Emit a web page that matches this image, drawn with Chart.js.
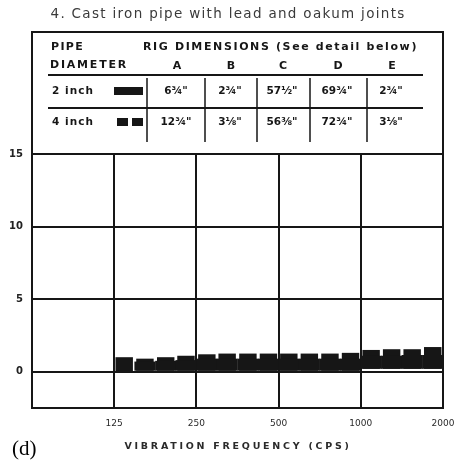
<!DOCTYPE html>
<html>
<head>
<meta charset="utf-8">
<script src="https://cdn.jsdelivr.net/npm/chart.js@4.4.1/dist/chart.umd.min.js"></script>
<style>
    html, body { margin: 0; padding: 0; background: #fff; }
    #wrap { width: 456px; height: 464px; }
</style>
</head>
<body>
<div id="wrap"><canvas id="vibChart"></canvas></div>
<script>
// Cast iron pipe, lead and oakum joints - vibration chart (d)

const chartTitle = '4. Cast iron pipe with lead and oakum joints';
const xAxisTitle = 'VIBRATION FREQUENCY (CPS)';
const panelLabel = '(d)';

// rig dimension table
const pipeSizes = ['2 inch', '4 inch'];
const rigColumns = ['A', 'B', 'C', 'D', 'E'];
const rigDims2in = ['6¾"', '2¾"', '57½"', '69¾"', '2¾"'];
const rigDims4in = ['12¾"', '3⅛"', '56⅜"', '72¾"', '3⅛"'];

// quarter-octave bands, 125 to 2000 cps
const bandFreqs = [136, 162, 193, 229, 273, 324, 386, 459, 545, 648, 771, 917, 1091, 1297, 1542, 1834];

// 2 inch pipe (solid band)
const band2inLow  = [null, 0, 0, 0, 0, 0, 0, 0, 0, 0, 0, 0, 0.2, 0.2, 0.2, 0.2];
const band2inHigh = [null, 0.7, 0.75, 0.8, 0.9, 0.9, 0.9, 0.9, 0.9, 0.9, 0.9, 0.9, 1.1, 1.1, 1.15, 1.15];

// 4 inch pipe (square blocks)
const blocks4inLow  = [-0.05, 0, 0, 0, 0, 0, 0, 0, 0, 0, 0, 0, 0.2, 0.2, 0.2, 0.2];
const blocks4inHigh = [1.0, 0.9, 1.0, 1.1, 1.2, 1.25, 1.25, 1.25, 1.25, 1.25, 1.25, 1.3, 1.5, 1.55, 1.55, 1.7];

// axes
const xTickValues = [62.5, 125, 250, 500, 1000, 2000];
const xTickLabels = ['', '125', '250', '500', '1000', '2000'];
const yTickValues = [0, 5, 10, 15];

const ink = '#161616';

// draw text stretched to a given width with letter spacing
function drawFit(ctx, text, x, y, width, align) {
    ctx.letterSpacing = '0px';
    const w = ctx.measureText(text).width;
    const ls = text.length > 1 ? (width - w) / text.length : 0;
    ctx.letterSpacing = ls.toFixed(2) + 'px';
    const left = align === 'center' ? x - width / 2 : x;
    ctx.textAlign = 'left';
    ctx.fillText(text, left, y);
    ctx.letterSpacing = '0px';
}

// table, title and captions around the plot
const framePlugin = {
    id: 'framePlugin',
    afterDraw(chart) {
        const ctx = chart.ctx;
        const area = chart.chartArea;
        ctx.save();
        ctx.fillStyle = ink;
        ctx.strokeStyle = ink;
        ctx.textBaseline = 'middle';

        // title
        ctx.fillStyle = '#3a3a3a';
        ctx.font = '13.5px "DejaVu Sans", sans-serif';
        drawFit(ctx, chartTitle, 228, 14, 355, 'center');

        // table box
        ctx.lineWidth = 2;
        ctx.beginPath();
        ctx.moveTo(area.left, area.top);
        ctx.lineTo(area.left, 32);
        ctx.lineTo(area.right, 32);
        ctx.lineTo(area.right, area.top);
        ctx.stroke();

        ctx.fillStyle = ink;
        ctx.font = 'bold 11px "DejaVu Sans", sans-serif';
        drawFit(ctx, 'PIPE', 51, 47, 33, 'left');
        drawFit(ctx, 'RIG DIMENSIONS (See detail below)', 143, 47, 275, 'left');
        drawFit(ctx, 'DIAMETER', 50, 65, 78, 'left');

        const colX = [177, 231, 283, 338, 392];
        ctx.font = 'bold 11px "DejaVu Sans", sans-serif';
        rigColumns.forEach((c, i) => {
            ctx.textAlign = 'center';
            ctx.fillText(c, colX[i], 66);
        });

        // rules
        ctx.lineWidth = 2;
        ctx.beginPath();
        ctx.moveTo(48, 75); ctx.lineTo(423, 75);
        ctx.moveTo(48, 108); ctx.lineTo(423, 108);
        ctx.stroke();
        ctx.lineWidth = 1.5;
        ctx.beginPath();
        [147, 205, 257, 310, 367].forEach(x => {
            ctx.moveTo(x, 78); ctx.lineTo(x, 142);
        });
        ctx.stroke();

        // rows
        const rowY = [91, 122];
        ctx.font = 'bold 10.5px "DejaVu Sans", sans-serif';
        pipeSizes.forEach((p, r) => {
            drawFit(ctx, p, 52, rowY[r], 42, 'left');
        });
        // swatches
        ctx.fillRect(114, 87, 29, 8);
        ctx.fillRect(117, 118, 11, 8);
        ctx.fillRect(132, 118, 11, 8);

        ctx.font = 'bold 10.5px "DejaVu Sans", sans-serif';
        [rigDims2in, rigDims4in].forEach((row, r) => {
            row.forEach((v, i) => {
                ctx.textAlign = 'center';
                ctx.fillText(v, colX[i] - 1, rowY[r]);
            });
        });

        // x axis title
        ctx.font = 'bold 9.5px "DejaVu Sans", sans-serif';
        ctx.fillStyle = '#2a2a2a';
        drawFit(ctx, xAxisTitle, 238, 447, 227, 'center');

        // panel label
        ctx.fillStyle = '#000';
        ctx.font = '21px "Liberation Serif", serif';
        ctx.textAlign = 'left';
        ctx.textBaseline = 'alphabetic';
        ctx.fillText(panelLabel, 12, 455);
        ctx.restore();
    }
};

const ctx = document.getElementById('vibChart').getContext('2d');
const vibChart = new Chart(ctx, {
    type: 'bar',
    data: {
        datasets: [
            {
                label: pipeSizes[0],
                data: bandFreqs.map((f, i) => ({
                    x: f,
                    y: band2inLow[i] === null ? null : [band2inLow[i], band2inHigh[i]]
                })),
                backgroundColor: ink,
                borderWidth: 0,
                grouped: false,
                categoryPercentage: 1,
                barPercentage: 1.04
            },
            {
                label: pipeSizes[1],
                data: bandFreqs.map((f, i) => ({ x: f, y: [blocks4inLow[i], blocks4inHigh[i]] })),
                backgroundColor: ink,
                borderWidth: 0,
                grouped: false,
                categoryPercentage: 1,
                barPercentage: 0.86
            }
        ]
    },
    options: {
        responsive: true,
        maintainAspectRatio: false,
        animation: false,
        devicePixelRatio: 1,
        layout: { padding: { top: 154, right: 13, left: 0, bottom: 0 } },
        plugins: {
            legend: { display: false },
            title: { display: false },
            tooltip: { enabled: false }
        },
        scales: {
            x: {
                type: 'logarithmic',
                min: 62.5,
                max: 2000,
                offset: false,
                grid: {
                    offset: false,
                    color: ink,
                    lineWidth: 2,
                    drawTicks: false
                },
                border: { display: true, color: ink, width: 2 },
                afterBuildTicks: (scale) => {
                    scale.ticks = xTickValues.map(v => ({ value: v }));
                },
                afterFit: (scale) => {
                    scale.height = 56;
                    scale.paddingLeft = 0;
                    scale.paddingRight = 0;
                },
                ticks: {
                    autoSkip: false,
                    maxRotation: 0,
                    padding: 10,
                    color: '#2a2a2a',
                    font: { family: '"DejaVu Sans", sans-serif', size: 9 },
                    callback: (v, i) => xTickLabels[i]
                }
            },
            y: {
                type: 'linear',
                min: -2.5,
                max: 15,
                grid: {
                    color: ink,
                    lineWidth: 2,
                    drawTicks: false
                },
                border: { display: true, color: ink, width: 2 },
                afterBuildTicks: (scale) => {
                    scale.ticks = yTickValues.map(v => ({ value: v }));
                },
                afterFit: (scale) => {
                    scale.width = 32;
                    scale.paddingTop = 0;
                    scale.paddingBottom = 0;
                },
                ticks: {
                    padding: 9,
                    color: '#222',
                    font: { family: '"DejaVu Sans", sans-serif', size: 10, weight: 'bold' }
                }
            }
        }
    },
    plugins: [framePlugin]
});
</script>
</body>
</html>
